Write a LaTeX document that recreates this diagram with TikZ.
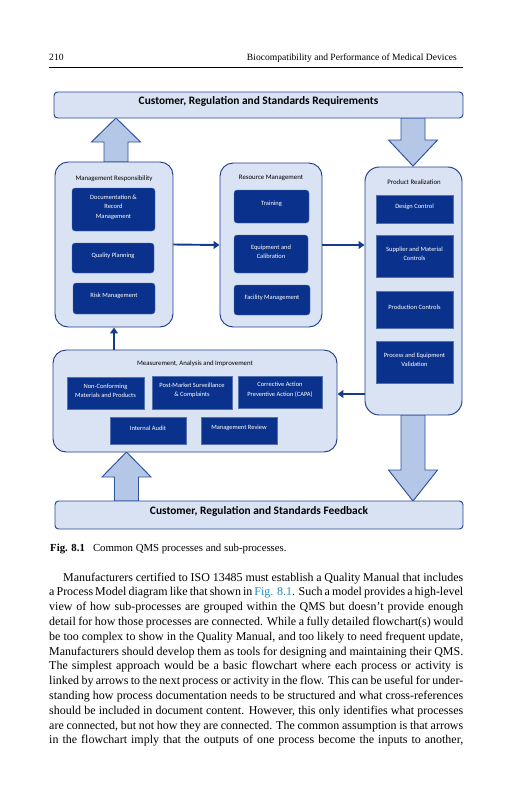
\documentclass[tikz,border=0pt]{standalone}
\usepackage{fontspec}
\setmainfont{Liberation Serif}
\newfontfamily\calfont{Carlito}
\usetikzlibrary{fit,arrows.meta}
\definecolor{bannerfill}{RGB}{216,226,243}
\definecolor{bannerdraw}{RGB}{40,72,150}
\definecolor{contfill}{RGB}{218,227,243}
\definecolor{contdraw}{RGB}{32,62,142}
\definecolor{innerfill}{RGB}{10,50,140}
\definecolor{blockfill}{RGB}{181,199,230}
\definecolor{blockdraw}{RGB}{47,82,160}
\definecolor{conncol}{RGB}{22,58,142}
\definecolor{linkblue}{RGB}{35,140,190}
\newcommand\blockarrow[4]{% x centre, base y, head-base y, tip y
  \draw[block] (#1-12,#2) -- (#1-12,#3) -- (#1-24.5,#3) -- (#1,#4) -- (#1+24.5,#3) -- (#1+12,#3) -- (#1+12,#2) -- cycle;}
\newcommand\pline[4]{\node[pline] (#1) at (#2) {\makebox[#3][s]{#4}};}
\begin{document}
\begin{tikzpicture}[x=0.8355pt,y=-0.8355pt,
  banner/.style={draw=bannerdraw, fill=bannerfill, line width=0.8pt, rounded corners=3pt, inner sep=0pt,
    font=\calfont\bfseries\fontsize{9.5}{10.5}\selectfont},
  container/.style={draw=contdraw, fill=contfill, line width=0.8pt, rounded corners=11pt, inner sep=0pt},
  innerbox/.style={fill=innerfill, draw=innerfill!70!white, line width=0.3pt, inner sep=0pt, text=white,
    align=center, font=\calfont\fontsize{5.4}{8.2}\selectfont},
  ctitle/.style={font=\calfont\fontsize{5.7}{6.5}\selectfont, inner sep=0pt},
  block/.style={draw=blockdraw, fill=blockfill, line width=0.8pt, line join=miter},
  conn/.style={draw=conncol, line width=1.6pt, -{Triangle[length=5pt,width=6.5pt]}},
  pline/.style={anchor=base west, inner sep=0pt, font=\fontsize{10}{12.4}\selectfont},
  head/.style={inner sep=0pt, font=\fontsize{8}{9}\selectfont}]
\useasboundingbox (0,0) rectangle (531,800);
\fill[white] (0,0) rectangle (531,800);

% running head
\node[head, anchor=base west] (pnum) at (49,60) {210};
\node[head, anchor=base east] (rhead) at (457,60) {Biocompatibility and Performance of Medical Devices};
\draw[line width=0.5pt] (pnum.west |- 0,67) -- (463,67);

% block arrows (drawn beneath the boxes)
\blockarrow{116}{162}{142}{118}
\blockarrow{413}{118}{140}{166}
\blockarrow{413}{415}{470}{501}
\blockarrow{126.5}{501}{477}{452}

% banners
\node[banner, fit={(54,92) (463,118)}] (req) {Customer, Regulation and Standards Requirements};
\node[banner, fit={(55,501) (463,529)}] (fb) {Customer, Regulation and Standards Feedback};

% containers
\node[container, fit={(55,162) (173,327)}] (mgmt) {};
\node[container, fit={(220,163) (322,327)}] (res) {};
\node[container, rounded corners=12pt, fit={(365,167) (462,415)}] (prod) {};
\node[container, fit={(53,350) (337,452)}] (mai) {};

\node[ctitle] (mgmtT) at (114,179) {Management Responsibility};
\node[ctitle] (resT) at (271,178) {Resource Management};
\node[ctitle] (prodT) at (414,182) {Product Realization};
\node[ctitle] (maiT) at (195,364) {Measurement, Analysis and Improvement};

% inner boxes
\node[innerbox, rounded corners=2.5pt, fit={(72,188) (155,231)}] (doc) {Documentation \&\\Record\\Management};
\node[innerbox, rounded corners=2.5pt, fit={(72,243) (154,273)}] (qp) {Quality Planning};
\node[innerbox, rounded corners=2.5pt, fit={(73,283) (155,314)}] (risk) {Risk Management};

\node[innerbox, rounded corners=2.5pt, fit={(234,190) (309,223)}] (train) {Training};
\node[innerbox, rounded corners=2.5pt, fit={(234,235) (308,273)}] (equip) {Equipment and\\Calibration};
\node[innerbox, rounded corners=2.5pt, fit={(234,285) (310,315)}] (fac) {Facility Management};

\node[innerbox, fit={(376,195) (453,223)}] (design) {Design Control};
\node[innerbox, fit={(376,235) (453,277)}] (supp) {Supplier and Material\\Controls};
\node[innerbox, fit={(376,291) (453,328)}] (prodc) {Production Controls};
\node[innerbox, fit={(376,341) (453,383)}] (valid) {Process and Equipment\\Validation};

\node[innerbox, fit={(67,377) (144,409)}] (nc) {Non-Conforming\\Materials and Products};
\node[innerbox, fit={(152,376) (232,409)}] (pms) {Post-Market Surveillance\\\& Complaints};
\node[innerbox, fit={(238,376) (322,408)}] (capa) {Corrective Action\\Preventive Action (CAPA)};
\node[innerbox, fit={(110,417) (186,444)}] (audit) {Internal Audit};
\node[innerbox, fit={(201,417) (277,444)}] (review) {Management Review};

% connectors
\draw[conn] (mgmt.east) -- (res.west);
\draw[conn] (res.east) -- (res.east -| prod.west);
\draw[conn] (prod.west |- 0,394) -- (mai.east |- 0,394);
\draw[conn] (mai.north -| mgmt.south) -- (mgmt.south);

% caption
\node[anchor=base west, inner sep=0pt, font=\fontsize{9}{11}\selectfont] (cap) at (50,551)
  {\textbf{Fig. 8.1}\hspace{0.75em}Common QMS processes and sub-processes.};

% body text
\pline{l1}{63,581}{334.2pt}{Manufacturers certified to ISO 13485 must establish a Quality Manual that includes}
\pline{l2}{49,595.8}{345.9pt}{a Process Model diagram like that shown in \textcolor{linkblue}{Fig. 8.1}. Such a model provides a high-level}
\pline{l3}{49,610.6}{345.9pt}{view of how sub-processes are grouped within the QMS but doesn't provide enough}
\pline{l4}{49,625.4}{345.9pt}{detail for how those processes are connected. While a fully detailed flowchart(s) would}
\pline{l5}{49,640.2}{345.9pt}{be too complex to show in the Quality Manual, and too likely to need frequent update,}
\pline{l6}{49,655}{345.9pt}{Manufacturers should develop them as tools for designing and maintaining their QMS.}
\pline{l7}{49,669.8}{345.9pt}{The simplest approach would be a basic flowchart where each process or activity is}
\pline{l8}{49,684.6}{345.9pt}{linked by arrows to the next process or activity in the flow. This can be useful for under-}
\pline{l9}{49,699.4}{345.9pt}{standing how process documentation needs to be structured and what cross-references}
\pline{l10}{49,714.2}{345.9pt}{should be included in document content. However, this only identifies what processes}
\pline{l11}{49,729}{345.9pt}{are connected, but not how they are connected. The common assumption is that arrows}
\pline{l12}{49,743.8}{345.9pt}{in the flowchart imply that the outputs of one process become the inputs to another,}
\end{tikzpicture}
\end{document}
